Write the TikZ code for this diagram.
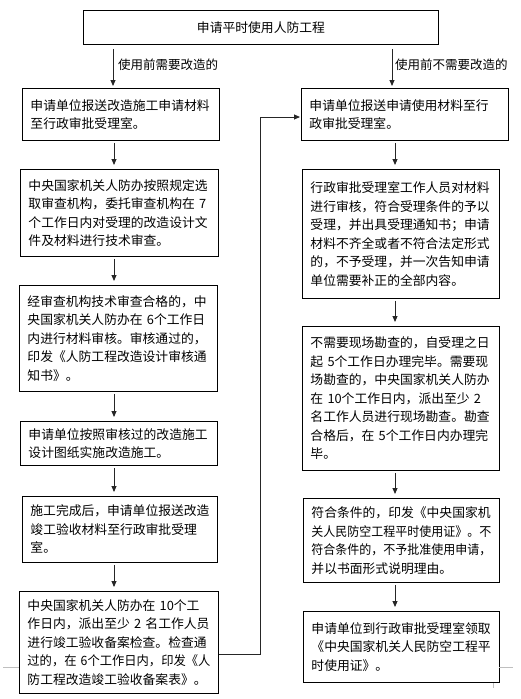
\documentclass[tikz,border=0pt]{standalone}
\usepackage{fontspec}
\usepackage{graphicx}
\newfontfamily\cjk{Noto Sans CJK SC}
\usetikzlibrary{arrows.meta,calc}
\newsavebox\fitbox
\newcommand\fitl[1]{\sbox\fitbox{#1}\ifdim\wd\fitbox>\linewidth\resizebox{\linewidth}{\height}{\usebox\fitbox}\else\usebox\fitbox\fi}
\begin{document}
\begin{tikzpicture}[x=1pt,y=-1pt,
  box/.style={draw=black,line width=0.9pt,anchor=north west,inner xsep=8pt,inner ysep=0pt,align=left,font=\cjk\fontsize{12.8}{18.5}\selectfont},
  arr/.style={draw=black!85,line width=0.9pt,-{Triangle[width=5pt,length=6pt]}},
  lbl/.style={font=\cjk\fontsize{12.5}{15}\selectfont,inner sep=0pt},
  crop/.style={draw=black!25,line width=0.8pt}]
\useasboundingbox (0,0) rectangle (521,699);
% top
\node[box,align=center,text width=339pt,minimum height=34pt] (top) at (83,10) {申请平时使用人防工程};
% left column
\node[box,text width=181pt,minimum height=52pt] (L1) at (22,88) {\fitl{申请单位报送改造施工申请材料}\\\fitl{至行政审批受理室。}};
\node[box,text width=182pt,minimum height=87pt] (L2) at (20,169) {\fitl{中央国家机关人防办按照规定选}\\\fitl{取审查机构，委托审查机构在 7}\\\fitl{个工作日内对受理的改造设计文}\\\fitl{件及材料进行技术审查。}};
\node[box,text width=182pt,minimum height=106pt] (L3) at (19,285) {\fitl{经审查机构技术审查合格的，中}\\\fitl{央国家机关人防办在 6个工作日}\\\fitl{内进行材料审核。审核通过的，}\\\fitl{印发《人防工程改造设计审核通}\\\fitl{知书》。}};
\node[box,text width=181pt,minimum height=44pt] (L4) at (20,421) {\fitl{申请单位按照审核过的改造施工}\\\fitl{设计图纸实施改造施工。}};
\node[box,text width=179pt,minimum height=66pt] (L5) at (22,496) {\fitl{施工完成后，申请单位报送改造}\\\fitl{竣工验收材料至行政审批受理}\\\fitl{室。}};
\node[box,text width=183pt,minimum height=102pt] (L6) at (19,591) {\fitl{中央国家机关人防办在 10个工}\\\fitl{作日内，派出至少 2 名工作人员}\\\fitl{进行竣工验收备案检查。检查通}\\\fitl{过的，在 6个工作日内，印发《人}\\\fitl{防工程改造竣工验收备案表》。}};
% right column
\node[box,text width=191pt,minimum height=52pt] (R1) at (301,88) {\fitl{申请单位报送申请使用材料至行}\\\fitl{政审批受理室。}};
\node[box,text width=181pt,minimum height=129pt] (R2) at (302,169) {\fitl{行政审批受理室工作人员对材料}\\\fitl{进行审核，符合受理条件的予以}\\\fitl{受理，并出具受理通知书；申请}\\\fitl{材料不齐全或者不符合法定形式}\\\fitl{的，不予受理，并一次告知申请}\\\fitl{单位需要补正的全部内容。}};
\node[box,text width=181pt,minimum height=144pt] (R3) at (302,326) {\fitl{不需要现场勘查的，自受理之日}\\\fitl{起 5个工作日办理完毕。需要现}\\\fitl{场勘查的，中央国家机关人防办}\\\fitl{在 10个工作日内，派出至少 2}\\\fitl{名工作人员进行现场勘查。勘查}\\\fitl{合格后，在 5个工作日内办理完}\\\fitl{毕。}};
\node[box,text width=180pt,minimum height=84pt] (R4) at (303,498) {\fitl{符合条件的，印发《中央国家机}\\\fitl{关人民防空工程平时使用证》。不}\\\fitl{符合条件的，不予批准使用申请，}\\\fitl{并以书面形式说明理由。}};
\node[box,text width=180pt,minimum height=71pt] (R5) at (303,611) {\fitl{申请单位到行政审批受理室领取}\\\fitl{《中央国家机关人民防空工程平}\\\fitl{时使用证》。}};
% branch labels
\node[lbl,anchor=west] (lb1) at (118,65) {使用前需要改造的};
\node[lbl,anchor=west] (lb2) at (395,65) {使用前不需要改造的};
% arrow x positions
\coordinate (xl) at (113,0);
\coordinate (xa) at (114,0);
\coordinate (xr) at (392,0);
\coordinate (xb) at (395,0);
\draw[arr,shorten >=2pt] ([yshift=-4pt]top.south -| xl) -- (L1.north -| xl);
\draw[arr,shorten >=2pt] ([yshift=-4pt]top.south -| xr) -- (R1.north -| xr);
\foreach \a/\b in {L1/L2,L2/L3,L3/L4,L4/L5,L5/L6}
  \draw[arr,shorten >=4pt,shorten <=2pt] (\a.south -| xa) -- (\b.north -| xa);
\foreach \a/\b in {R1/R2,R2/R3,R3/R4,R4/R5}
  \draw[arr,shorten >=4pt,shorten <=2pt] (\a.south -| xb) -- (\b.north -| xb);
% loop connector
\coordinate (j1) at (260,654);
\coordinate (j2) at (260,117);
\draw[arr,shorten >=1pt] (L6.east |- j1) -- (j1) -- (j2) -- (R1.west |- j2);
% page corner marks
\draw[crop] (3,667) -- (19,667);
\draw[crop] (499,667) -- (513,667);
\draw[crop] (493,683) -- (493,688);
\end{tikzpicture}
\end{document}
